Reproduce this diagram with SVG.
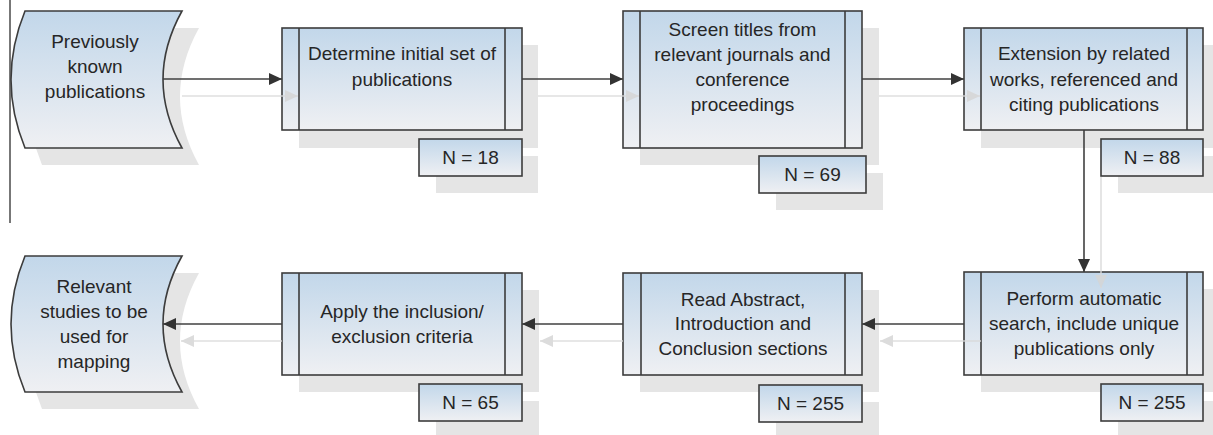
<svg xmlns="http://www.w3.org/2000/svg" width="1213" height="435" viewBox="0 0 1213 435">
<style>
.t{font-family:"Liberation Sans",Arial,sans-serif;font-size:19px;fill:#262626;text-anchor:middle}
.n{fill:url(#g);stroke:#3c3c3c;stroke-width:1.6}
.b{fill:none;stroke:#3c3c3c;stroke-width:1.6}
.sh{fill:#e5e5e5}
.c{fill:none;stroke:#404040;stroke-width:1.6;marker-end:url(#ah)}
.cs{fill:none;stroke:#dadada;stroke-width:1.6;marker-end:url(#ahs)}
</style>
<defs>
<linearGradient id="g" x1="0" y1="0" x2="0" y2="1">
<stop offset="0" stop-color="#c2d7ea"/>
<stop offset="1" stop-color="#eff0f3"/>
</linearGradient>
<marker id="ah" markerUnits="userSpaceOnUse" markerWidth="13" markerHeight="12" refX="13" refY="6" orient="auto">
<path d="M0,0 L13,6 L0,12 Z" fill="#333"/>
</marker>
<marker id="ahs" markerUnits="userSpaceOnUse" markerWidth="13" markerHeight="12" refX="13" refY="6" orient="auto">
<path d="M0,0 L13,6 L0,12 Z" fill="#d6d6d6"/>
</marker>
</defs>
<line x1="10" y1="0" x2="10" y2="223" stroke="#555" stroke-width="1.6"/>
<g id="shadows">
<path class="sh" d="M42,28 L199,28 Q161,96.5 199,165 L42,165 Q14,96.5 42,28 Z"/>
<rect class="sh" x="299" y="45" width="239" height="103"/>
<rect class="sh" x="436" y="156" width="102" height="37"/>
<rect class="sh" x="640" y="28" width="239" height="137"/>
<rect class="sh" x="776" y="173" width="107" height="37"/>
<rect class="sh" x="981" y="45" width="239" height="103"/>
<rect class="sh" x="1118" y="156" width="102" height="37"/>
<path class="sh" d="M42,273 L199,273 Q161,341 199,409 L42,409 Q14,341 42,273 Z"/>
<rect class="sh" x="299" y="290" width="240" height="102"/>
<rect class="sh" x="436" y="401" width="103" height="37"/>
<rect class="sh" x="640" y="290" width="239" height="102"/>
<rect class="sh" x="776" y="402" width="103" height="37"/>
<rect class="sh" x="981" y="289" width="239" height="103"/>
<rect class="sh" x="1118" y="401" width="102" height="37"/>
</g>
<g id="connectors">
<line class="c" x1="163" y1="79" x2="282" y2="79"/>
<line class="c" x1="522" y1="79" x2="623" y2="79"/>
<line class="c" x1="862" y1="79" x2="964" y2="79"/>
<line class="c" x1="1084" y1="130" x2="1084" y2="272"/>
<line class="c" x1="964" y1="324" x2="862" y2="324"/>
<line class="c" x1="623" y1="324" x2="522" y2="324"/>
<line class="c" x1="282" y1="324" x2="163" y2="324"/>
</g>
<g id="prev">
<path class="n" d="M25,11 L182,11 Q144,79.5 182,148 L25,148 Q-3,79.5 25,11 Z"/>
<text class="t" x="95" y="48">Previously</text>
<text class="t" x="95" y="73">known</text>
<text class="t" x="95" y="98">publications</text>
</g>
<g id="determine">
<rect class="n" x="282" y="28" width="240" height="102"/>
<line class="b" x1="299" y1="28" x2="299" y2="130"/>
<line class="b" x1="505" y1="28" x2="505" y2="130"/>
<text class="t" x="402" y="60">Determine initial set of</text>
<text class="t" x="402" y="85.5">publications</text>
<rect class="n" x="419" y="139" width="103" height="37"/>
<text class="t" x="470.5" y="164">N = 18</text>
</g>
<g id="screen">
<rect class="n" x="623" y="11" width="239" height="137"/>
<line class="b" x1="640" y1="11" x2="640" y2="148"/>
<line class="b" x1="845" y1="11" x2="845" y2="148"/>
<text class="t" x="742.5" y="35.5">Screen titles from</text>
<text class="t" x="742.5" y="61">relevant journals and</text>
<text class="t" x="742.5" y="86">conference</text>
<text class="t" x="742.5" y="111">proceedings</text>
<rect class="n" x="759" y="156" width="107" height="37"/>
<text class="t" x="812.5" y="181">N = 69</text>
</g>
<g id="extension">
<rect class="n" x="964" y="28" width="239" height="102"/>
<line class="b" x1="981" y1="28" x2="981" y2="130"/>
<line class="b" x1="1187" y1="28" x2="1187" y2="130"/>
<text class="t" x="1084" y="60">Extension by related</text>
<text class="t" x="1084" y="85.5">works, referenced and</text>
<text class="t" x="1084" y="110.5">citing publications</text>
<rect class="n" x="1101" y="139" width="102" height="37"/>
<text class="t" x="1152" y="164">N = 88</text>
</g>
<g id="perform">
<rect class="n" x="964" y="272" width="239" height="103"/>
<line class="b" x1="981" y1="272" x2="981" y2="375"/>
<line class="b" x1="1187" y1="272" x2="1187" y2="375"/>
<text class="t" x="1084" y="305">Perform automatic</text>
<text class="t" x="1084" y="330">search, include unique</text>
<text class="t" x="1084" y="355">publications only</text>
<rect class="n" x="1101" y="384" width="102" height="37"/>
<text class="t" x="1152" y="409">N = 255</text>
</g>
<g id="read">
<rect class="n" x="623" y="273" width="239" height="102"/>
<line class="b" x1="641" y1="273" x2="641" y2="375"/>
<line class="b" x1="845" y1="273" x2="845" y2="375"/>
<text class="t" x="743" y="305.5">Read Abstract,</text>
<text class="t" x="743" y="330">Introduction and</text>
<text class="t" x="743" y="355">Conclusion sections</text>
<rect class="n" x="759" y="385" width="103" height="37"/>
<text class="t" x="810.5" y="410">N = 255</text>
</g>
<g id="apply">
<rect class="n" x="282" y="273" width="240" height="102"/>
<line class="b" x1="299" y1="273" x2="299" y2="375"/>
<line class="b" x1="505" y1="273" x2="505" y2="375"/>
<text class="t" x="402" y="318">Apply the inclusion/</text>
<text class="t" x="402" y="343">exclusion criteria</text>
<rect class="n" x="419" y="384" width="103" height="37"/>
<text class="t" x="470.5" y="409">N = 65</text>
</g>
<g id="relevant">
<path class="n" d="M25,256 L182,256 Q144,324 182,392 L25,392 Q-3,324 25,256 Z"/>
<text class="t" x="94" y="293">Relevant</text>
<text class="t" x="94" y="318">studies to be</text>
<text class="t" x="94" y="343">used for</text>
<text class="t" x="94" y="368">mapping</text>
</g>
<g id="shadow-connectors" opacity="0.85">
<line class="cs" x1="182" y1="96" x2="298" y2="96"/>
<line class="cs" x1="538" y1="96" x2="639" y2="96"/>
<line class="cs" x1="879" y1="96" x2="980" y2="96"/>
<line class="cs" x1="1101" y1="177" x2="1101" y2="288"/>
<line class="cs" x1="981" y1="341" x2="880" y2="341"/>
<line class="cs" x1="623" y1="341" x2="540" y2="341"/>
<line class="cs" x1="282" y1="341" x2="181" y2="341"/>
</g>
</svg>
